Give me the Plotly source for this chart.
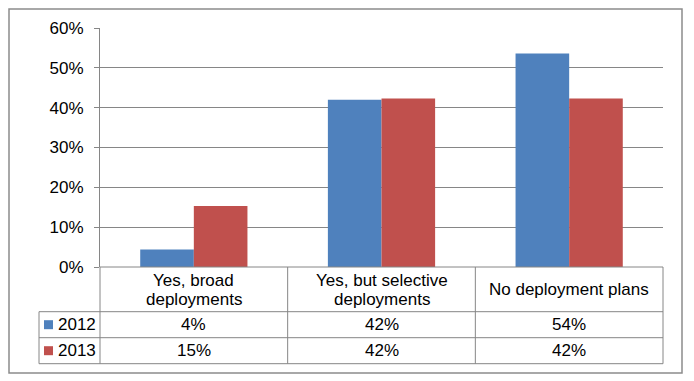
import plotly.graph_objects as go

categories = ["Yes, broad\ndeployments", "Yes, but selective\ndeployments", "No deployment plans"]
series_names = ["2012", "2013"]
values_2012 = [0.044, 0.420, 0.536]
values_2013 = [0.153, 0.423, 0.423]
table_2012 = ["4%", "42%", "54%"]
table_2013 = ["15%", "42%", "42%"]
y_ticks = [0, 0.1, 0.2, 0.3, 0.4, 0.5, 0.6]

colors = ["#4F81BD", "#C0504D"]
W, H = 694, 381
L, R, T, B = 100, 663, 28, 267  # plot area in pixels
FONT = "Liberation Sans, Arial, sans-serif"
FS = 17
GRAY = "#868686"


def px(x):
    return (x - L) / (R - L)


def py(y):
    return (B - y) / (B - T)


cat_keys = [c.replace("\n", " ") for c in categories]

fig = go.Figure()
for name, vals, col in zip(series_names, [values_2012, values_2013], colors):
    fig.add_trace(go.Bar(x=cat_keys, y=vals, name=name, marker=dict(color=col, line=dict(width=0)),
                         hoverinfo="y"))

fig.update_layout(
    width=W, height=H,
    margin=dict(l=L, r=W - R, t=T, b=H - B, pad=0),
    paper_bgcolor="white", plot_bgcolor="white",
    barmode="group", bargap=0.4286, bargroupgap=0,
    showlegend=False,
    font=dict(family=FONT, size=FS, color="#000"),
    xaxis=dict(showticklabels=False, showgrid=False, zeroline=False, showline=False, ticks=""),
    yaxis=dict(range=[0, 0.6], tickvals=y_ticks, tickformat=".0%", showgrid=True, gridcolor=GRAY,
               gridwidth=1, zeroline=False, showline=True, linecolor=GRAY, linewidth=1,
               ticks="outside", ticklen=5, tickcolor=GRAY, ticklabelstandoff=7,
               tickfont=dict(family=FONT, size=FS, color="#000")),
)

shapes = []
def line(x0, y0, x1, y1, color=GRAY, w=1):
    shapes.append(dict(type="line", xref="paper", yref="paper", x0=px(x0), y0=py(y0), x1=px(x1), y1=py(y1),
                       line=dict(color=color, width=w)))

# outer border
shapes.append(dict(type="rect", xref="paper", yref="paper", x0=px(9), y0=py(9), x1=px(682), y1=py(373),
                   line=dict(color="#8c8c8c", width=1.5), fillcolor="rgba(0,0,0,0)", layer="below"))

col_x = [L + i * (R - L) / 3 for i in range(4)]
row_y = [B, 311.7, 337.7, 363.7]
leg_x = 39
# horizontal table lines
line(L, B, R, B)
for y in row_y[1:]:
    line(leg_x, y, R, y)
# vertical lines
for x in col_x:
    line(x, B, x, row_y[-1])
line(leg_x, row_y[1], leg_x, row_y[-1])

# legend squares
for i, col in enumerate(colors):
    cy = (row_y[i + 1] + row_y[i + 2]) / 2
    shapes.append(dict(type="rect", xref="paper", yref="paper", x0=px(44), x1=px(53), y0=py(cy - 4.5),
                       y1=py(cy + 4.5), line=dict(width=0), fillcolor=col))
fig.update_layout(shapes=shapes)

ann = []
# header labels
for i, c in enumerate(categories):
    cx = (col_x[i] + col_x[i + 1]) / 2
    lines = c.split("\n")
    if len(lines) == 1:
        ys = [289.5]
    else:
        ys = [280, 299]
    for t, yy in zip(lines, ys):
        ann.append(dict(x=px(cx), y=py(yy), xref="paper", yref="paper", text=t, showarrow=False,
                        xanchor="center", yanchor="middle", font=dict(family=FONT, size=FS, color="#000")))
# rows
for r, (name, vals) in enumerate(zip(series_names, [table_2012, table_2013])):
    cy = (row_y[r + 1] + row_y[r + 2]) / 2
    ann.append(dict(x=px(56), y=py(cy), xref="paper", yref="paper", text=name, showarrow=False,
                    xanchor="left", yanchor="middle", font=dict(family=FONT, size=FS, color="#000")))
    for i, v in enumerate(vals):
        cx = (col_x[i] + col_x[i + 1]) / 2
        ann.append(dict(x=px(cx), y=py(cy), xref="paper", yref="paper", text=v, showarrow=False,
                        xanchor="center", yanchor="middle", font=dict(family=FONT, size=FS, color="#000")))
fig.update_layout(annotations=ann)

fig.write_html("out.html", config={"displayModeBar": False},
               post_script="document.body.style.margin='0';document.body.style.overflow='hidden';")
